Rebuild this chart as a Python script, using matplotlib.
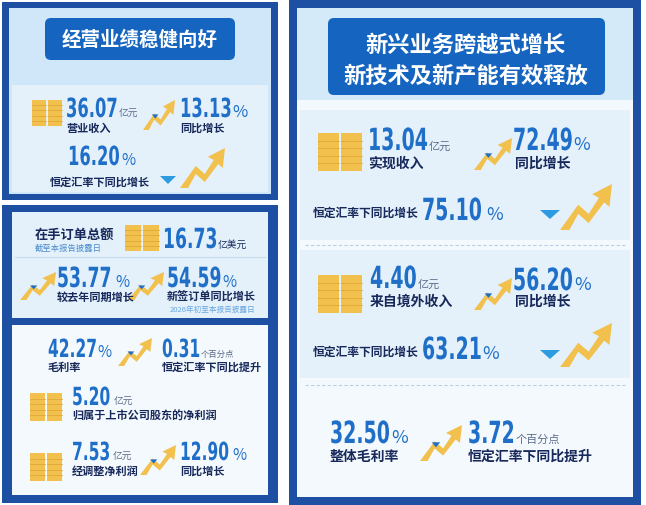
import matplotlib.pyplot as plt
from matplotlib.patches import Rectangle, FancyBboxPatch, Polygon, PathPatch
from matplotlib.textpath import TextPath
from matplotlib.font_manager import FontProperties
from matplotlib.transforms import Affine2D

plt.rcParams['font.family'] = ['Noto Sans CJK SC', 'DejaVu Sans']

# values read from the infographic
left_title = "经营业绩稳健向好"
revenue = "36.07"
revenue_yoy = "13.13"
revenue_cc = "16.20"
backlog = "16.73"
backlog_yoy = "53.77"
new_orders_yoy = "54.59"
gross_margin = "42.27"
gm_change = "0.31"
net_profit = "5.20"
adj_profit = "7.53"
adj_profit_yoy = "12.90"

right_title = ["新兴业务跨越式增长", "新技术及新产能有效释放"]
new_rev = "13.04"
new_rev_yoy = "72.49"
new_rev_cc = "75.10"
overseas = "4.40"
overseas_yoy = "56.20"
overseas_cc = "63.21"
new_gm = "32.50"
new_gm_change = "3.72"

DARK = "#1d4fa3"
BLUE = "#1f6fc9"
NAVY = "#17285a"
LIGHT = "#e4f1fb"
GOLD = "#f2c04c"
GREY = "#5c6b8a"
NUMFP = FontProperties(family="DejaVu Sans", weight="bold")

fig = plt.figure(figsize=(6.46, 5.05), dpi=100)
ax = fig.add_axes([0, 0, 1, 1])
ax.set_xlim(0, 646)
ax.set_ylim(505, 0)
ax.axis("off")


def box(x0, y0, x1, y1, color, r=0):
    ax.add_patch(FancyBboxPatch((x0, y0), x1 - x0, y1 - y0,
                                boxstyle=f"round,pad=0,rounding_size={r}" if r else "square,pad=0",
                                fc=color, ec="none"))


def coins(x, y, w, h):
    # two stacks of gold bars
    for cx in (x, x + w / 2 + 1):
        ax.add_patch(Rectangle((cx, y), w / 2 - 1, h, fc=GOLD, ec="none"))
        n = 5
        for i in range(1, n):
            ax.plot([cx, cx + w / 2 - 1], [y + h * i / n] * 2, color="#e0a93a", lw=0.6)


def arrow(x, y, w, h, tri=True):
    pts = [(x, y + h), (x + w * 0.35, y + h * 0.45), (x + w * 0.55, y + h * 0.65),
           (x + w * 0.75, y + h * 0.3), (x + w * 0.62, y + h * 0.22), (x + w, y),
           (x + w * 0.95, y + h * 0.5), (x + w * 0.85, y + h * 0.4),
           (x + w * 0.55, y + h * 0.85), (x + w * 0.35, y + h * 0.65), (x + w * 0.18, y + h)]
    ax.add_patch(Polygon(pts, closed=True, fc=GOLD, ec="none"))
    if tri:
        ax.add_patch(Polygon([(x + w * 0.28, y + h * 0.48), (x + w * 0.48, y + h * 0.48),
                              (x + w * 0.38, y + h * 0.62)], fc=BLUE, ec="none"))


def num(x, y, s, unit, size=19, usize=9, ucolor=BLUE, gap=2):
    # condensed number drawn as a path (no narrow font installed)
    k = size * 100 / 72
    tp = TextPath((0, 0), s, size=1, prop=NUMFP)
    tr = Affine2D().scale(k * 0.62, -k).translate(x, y)
    ax.add_patch(PathPatch(tr.transform_path(tp), fc=BLUE, ec="none"))
    x1 = x + tp.get_extents().x1 * k * 0.62
    ax.text(x1 + gap, y, unit, fontsize=usize, color=ucolor, va="baseline")


def lab(x, y, s, size=9, color=NAVY, weight="bold"):
    ax.text(x, y, s, fontsize=size, color=color, weight=weight, va="baseline")


# ---------- left top panel ----------
box(2, 2, 278, 200, DARK)
box(9, 8, 271, 194, "#cfe7f8")
box(12, 85, 268, 192, LIGHT)
box(45, 18, 235, 60, "#1565c0", r=6)
ax.text(140, 40, left_title, fontsize=14, color="white", weight="bold", ha="center", va="center")

coins(32, 100, 30, 26)
num(66, 117, revenue, "亿元", usize=7, ucolor=GREY)
lab(66, 132, "营业收入", 8)
arrow(143, 100, 32, 30)
num(180, 117, revenue_yoy, "%", usize=12)
lab(180, 132, "同比增长", 8)
num(68, 165, revenue_cc, "%", usize=11)
lab(50, 186, "恒定汇率下同比增长", 8)
ax.add_patch(Polygon([(160, 176), (176, 176), (168, 184)], fc="#2d9be0", ec="none"))
arrow(180, 148, 45, 40, tri=False)

# ---------- left bottom panel ----------
box(2, 205, 278, 503, DARK)
box(12, 212, 268, 318, LIGHT)
box(12, 325, 268, 495, "#f4f9fd")
lab(35, 239, "在手订单总额", 9.5)
lab(35, 251, "截至本报告披露日", 6, color="#4a8bd0", weight="normal")
coins(125, 225, 34, 26)
num(163, 248, backlog, "亿美元", size=20, usize=7, ucolor=NAVY)
ax.plot([15, 265], [257, 257], color="#c9dcea", lw=0.8)
arrow(20, 272, 36, 28)
num(57, 287, backlog_yoy, "%", size=20, usize=11, gap=5)
lab(57, 301, "较去年同期增长", 8)
arrow(128, 272, 36, 28)
num(167, 287, new_orders_yoy, "%", size=20, usize=11)
lab(167, 301, "新签订单同比增长", 8)
lab(170, 312, "2026年初至本报告披露日", 5.5, color="#6aa6dd", weight="normal")

num(48, 357, gross_margin, "%", size=18, usize=11)
lab(48, 371, "毛利率", 8)
arrow(118, 338, 34, 28)
num(162, 357, gm_change, "个百分点", size=18, usize=6, ucolor=GREY)
lab(162, 371, "恒定汇率下同比提升", 8)

coins(30, 393, 32, 28)
num(72, 405, net_profit, "亿元", size=18, usize=7, ucolor=GREY, gap=4)
lab(72, 420, "归属于上市公司股东的净利润", 8)

coins(30, 453, 32, 28)
num(72, 460, adj_profit, "亿元", size=18, usize=7, ucolor=GREY, gap=4)
lab(72, 475, "经调整净利润", 8)
arrow(140, 445, 36, 30)
num(180, 460, adj_profit_yoy, "%", size=18, usize=11, gap=4)
lab(180, 475, "同比增长", 8)

# ---------- right panel ----------
box(289, 0, 641, 505, DARK)
box(297, 8, 633, 497, "#f4f9fd")
box(297, 8, 633, 100, "#d5eaf8")
box(328, 18, 605, 95, "#1565c0", r=6)
ax.text(466, 45, right_title[0], fontsize=16, color="white", weight="bold", ha="center", va="center")
ax.text(466, 76, right_title[1], fontsize=16, color="white", weight="bold", ha="center", va="center")

box(300, 110, 630, 240, LIGHT)
coins(318, 133, 44, 38)
num(368, 150, new_rev, "亿元", size=22, usize=8, ucolor=GREY)
lab(368, 168, "实现收入", 10)
arrow(474, 138, 38, 32)
num(513, 150, new_rev_yoy, "%", size=22, usize=13)
lab(515, 168, "同比增长", 10)
lab(313, 217, "恒定汇率下同比增长", 8.5)
num(422, 220, new_rev_cc, "%", size=22, usize=13, gap=5)
ax.add_patch(Polygon([(540, 210), (560, 210), (550, 219)], fc="#2d9be0", ec="none"))
arrow(560, 184, 52, 46, tri=False)
ax.plot([305, 625], [245, 245], color="#b9cfe3", lw=0.8, ls=(0, (3, 2)))

box(300, 250, 630, 378, LIGHT)
coins(318, 275, 44, 38)
num(370, 288, overseas, "亿元", size=22, usize=8, ucolor=GREY)
lab(370, 306, "来自境外收入", 10)
arrow(474, 278, 38, 32)
num(513, 290, overseas_yoy, "%", size=22, usize=13)
lab(515, 306, "同比增长", 10)
lab(313, 356, "恒定汇率下同比增长", 8.5)
num(422, 359, overseas_cc, "%", size=22, usize=13)
ax.add_patch(Polygon([(540, 350), (560, 350), (550, 359)], fc="#2d9be0", ec="none"))
arrow(560, 323, 52, 44, tri=False)
ax.plot([305, 625], [385, 385], color="#b9cfe3", lw=0.8, ls=(0, (3, 2)))

num(330, 443, new_gm, "%", size=22, usize=13)
lab(330, 461, "整体毛利率", 10)
arrow(420, 425, 42, 36)
num(468, 443, new_gm_change, "个百分点", size=22, usize=8, ucolor=GREY)
lab(468, 461, "恒定汇率下同比提升", 10)

fig.savefig("out.png", dpi=100)
